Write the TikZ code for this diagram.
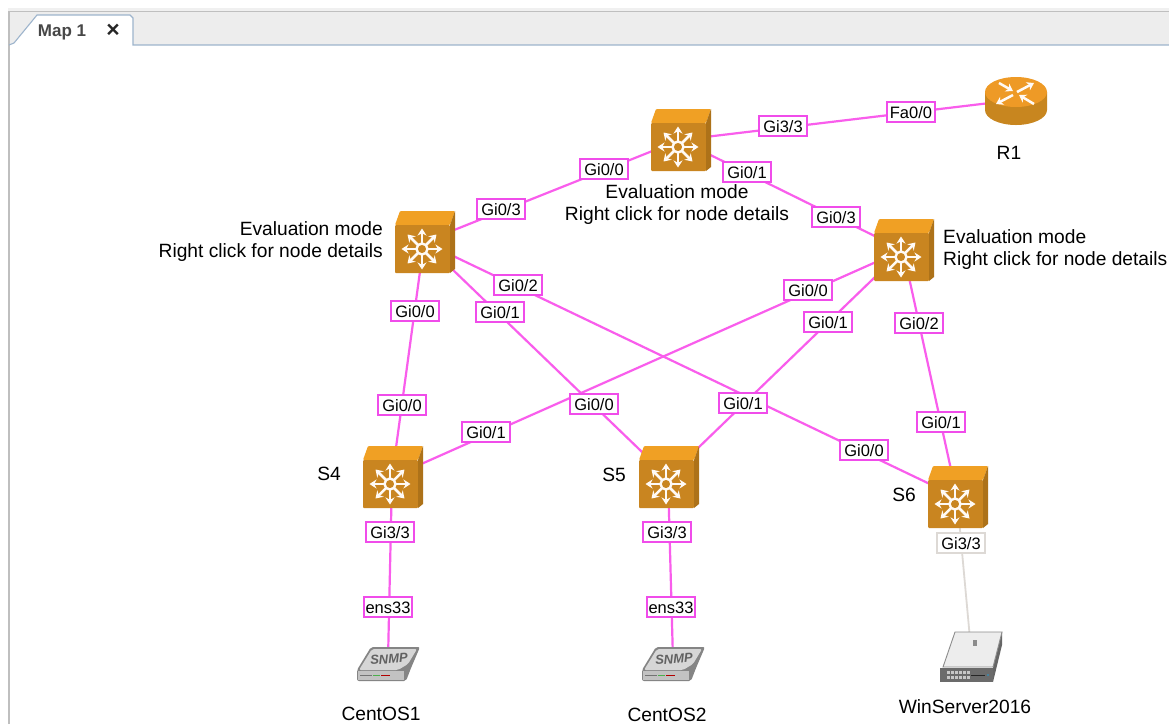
\documentclass[tikz,border=0pt]{standalone}
\usepackage{fontspec}
\setmainfont{Liberation Sans}
\usetikzlibrary{arrows.meta}
\definecolor{linkc}{HTML}{F95DEC}
\definecolor{boxc}{HTML}{F04CEA}
\definecolor{okc}{HTML}{DDD9D5}
\definecolor{topf}{HTML}{F0A024}
\definecolor{frontf}{HTML}{C98520}
\definecolor{sidef}{HTML}{AD7219}
\definecolor{routertop}{HTML}{EE9A26}
\definecolor{routerside}{HTML}{C8861F}
\definecolor{tabline}{HTML}{9DB4CC}
\tikzset{
  x=1pt,y=-1pt,
  link/.style={draw=linkc,line width=2.2pt},
  greylink/.style={draw=okc,line width=1.8pt},
  lab/.style={draw=boxc,fill=white,line width=1.1pt,font=\fontsize{16.5}{17}\selectfont,text=black,minimum width=48pt,minimum height=20pt,inner sep=0pt,text height=12pt,text depth=0pt},
  greylab/.style={lab,draw=okc},
  name text/.style={font=\fontsize{19.2}{22}\selectfont,text=black,inner sep=0pt},
  evalc/.style={name text,align=center},
  evalr/.style={name text,align=right},
  evall/.style={name text,align=left},
  anchorpt/.style={inner sep=0pt,minimum size=0pt},
  wa/.style={draw=white!96!orange,line width=2.5pt,-{Stealth[length=7pt,width=9pt]}},
  pics/switchicon/.style={code={
    \fill[topf,rounded corners=1pt] (-29,-17)--(-24,-31)--(31,-31)--(26,-17)--cycle;
    \fill[frontf,rounded corners=1pt] (-29,-17) rectangle (26,31);
    \fill[sidef] (26,-17)--(31,-31)--(31,27)--(26,31)--cycle;
    \foreach \a in {0,45,...,315}{
      \draw[wa] (-2,7)++(\a:5) -- ++(\a:15.5);
    }
    \fill[frontf] (-2,7) circle (5.5);
    \draw[white!96!orange,line width=2.4pt] (-2,7) circle (5.5);
  }},
  pics/routericon/.style={code={
    \fill[routerside] (-30,-8) -- (-30,10) arc[start angle=180,end angle=0,x radius=31,y radius=15] -- (32,-8) --cycle;
    \fill[routertop] (1,-8) ellipse[x radius=31,y radius=15];
    \draw[wa] (-16,-17)--(-2,-9);
    \draw[wa] (2,-8)--(19,-17);
    \draw[wa] (-2,-5)--(-19,4);
    \draw[wa] (19,4)--(4,-5);
  }}
}
\begin{document}
\begin{tikzpicture}
\useasboundingbox (0,0) rectangle (1169,724);
\fill[white] (0,0) rectangle (1169,724);
% window frame and tab
\fill[black!6] (8,8) rectangle (1169,12);
\fill[black!7] (9,12) rectangle (1169,45);
\draw[black!25,line width=1.2pt] (9,724)--(9,11.5)--(1169,11.5);
\fill[white] (10,45)--(14,43)--(37,15)--(130,15)--(133,18)--(133,46)--cycle;
\draw[tabline,line width=1.1pt] (9,45)--(14,43)--(37,15)--(130,15)--(133,18)--(133,45)--(1169,45);
\node[anchorpt,font=\fontsize{17}{17}\selectfont\bfseries,text=black!72] (tabname) at (62,32) {Map 1};
\node[anchorpt,font=\fontsize{23}{23}\selectfont\bfseries,text=black!85] (tabclose) at (113,31) {×};
% anchors of the devices
\node[anchorpt] (top) at (680,140) {};
\node[anchorpt] (r1) at (1015,100) {};
\node[anchorpt] (left) at (424,242) {};
\node[anchorpt] (right) at (903,250) {};
\node[anchorpt] (s4) at (392,477) {};
\node[anchorpt] (s5) at (668,477) {};
\node[anchorpt] (s6) at (957,497) {};
\node[anchorpt] (c1) at (388,660) {};
\node[anchorpt] (c2) at (673,660) {};
\node[anchorpt] (win) at (971,650) {};
% connectors
\draw[link] (top)--(r1);
\draw[link] (top)--(left);
\draw[link] (top)--(right);
\draw[link] (left)--(s4);
\draw[link] (left)--(s5);
\draw[link] (left)--(s6);
\draw[link] (right)--(s4);
\draw[link] (right)--(s5);
\draw[link] (right)--(s6);
\draw[link] (s4)--(c1);
\draw[link] (s5)--(c2);
\draw[greylink] (s6)--(win);
% switches
\pic at (top) {switchicon};
\pic at (left) {switchicon};
\pic at (right) {switchicon};
\pic at (s4) {switchicon};
\pic at (s5) {switchicon};
\pic at (s6) {switchicon};
\pic at (r1) {routericon};
% SNMP appliances
\foreach \ox/\oy/\nm in {0/0/one,285/0/two}{
\begin{scope}[shift={(\ox,\oy)}]
  \fill[black!48,rounded corners=2pt] (371,647)--(420,647)--(411,668)--(406,681)--(357,681)--(357,670)--cycle;
  \fill[black!16,rounded corners=2pt] (372,649)--(417,649)--(408,664)--(398,670)--(359,670)--cycle;
  \fill[black!24] (358,671) rectangle (404,679.5);
  \draw[black!55,line width=1.2pt] (360,675.5)--(372,675.5);
  \draw[green!55!black!70,line width=1.2pt] (373,675.5)--(380,675.5);
  \draw[red!70!black,line width=1.2pt] (381,675.5)--(390,675.5);
  \node[anchorpt,rotate=4,font=\fontsize{13}{13}\selectfont\bfseries\itshape,text=black!62] (snmp\nm) at (389,659) {SNMP};
\end{scope}}
% server
\fill[black!60] (1002,632)--(1002,645)--(993,682)--(993,667)--cycle;
\fill[black!7] (955,632)--(1002,632)--(993,667)--(943,667)--cycle;
\draw[black!45,line width=0.9pt] (955,632)--(1002,632)--(993,667)--(943,667)--cycle;
\fill[black!58] (940,668) rectangle (993,682);
\fill[black!45] (972.5,640) rectangle (976.5,646);
\foreach \px in {947,951,955,959,963,967}{
  \fill[black!22] (\px,671) rectangle ++(2.5,3);
  \fill[black!22] (\px,676) rectangle ++(2.5,3);
}
\draw[black!85,line width=1pt] (971,675)--(985,675);
\fill[cyan!60!black] (987,674) rectangle ++(2,2);
% interface labels
\node[lab] (l1) at (783,126) {Gi3/3};
\node[lab] (l2) at (911,112) {Fa0/0};
\node[lab] (l3) at (604,169) {Gi0/0};
\node[lab] (l4) at (501,209) {Gi0/3};
\node[lab] (l5) at (747,172) {Gi0/1};
\node[lab] (l6) at (836,217) {Gi0/3};
\node[lab] (l7) at (415,311) {Gi0/0};
\node[lab] (l8) at (402,405) {Gi0/0};
\node[lab] (l9) at (500,312) {Gi0/1};
\node[lab] (l10) at (594,404) {Gi0/0};
\node[lab] (l11) at (518,285) {Gi0/2};
\node[lab] (l12) at (864,450) {Gi0/0};
\node[lab] (l13) at (808,290) {Gi0/0};
\node[lab] (l14) at (486,432) {Gi0/1};
\node[lab] (l15) at (828,322) {Gi0/1};
\node[lab] (l16) at (743,403) {Gi0/1};
\node[lab] (l17) at (919,323) {Gi0/2};
\node[lab] (l18) at (941,422) {Gi0/1};
\node[lab] (l19) at (390,532) {Gi3/3};
\node[lab] (l20) at (388,607) {ens33};
\node[lab] (l21) at (667,532) {Gi3/3};
\node[lab] (l22) at (671,607) {ens33};
\node[greylab] (l23) at (961,543) {Gi3/3};
% device names
\node[evalc] (tt) at (677,204.5) {Evaluation mode\\Right click for node details};
\node[evalr,anchor=east] (tl) at (383,241.5) {Evaluation mode\\Right click for node details};
\node[evall,anchor=west] (tr) at (943,249.5) {Evaluation mode\\Right click for node details};
\node[name text] (nr1) at (1009,153) {R1};
\node[name text] (n4) at (329,474) {S4};
\node[name text] (n5) at (614,475) {S5};
\node[name text] (n6) at (904,495) {S6};
\node[name text] (nc1) at (381,714) {CentOS1};
\node[name text] (nc2) at (667,715) {CentOS2};
\node[name text] (nw) at (965,707) {WinServer2016};
\end{tikzpicture}
\end{document}
